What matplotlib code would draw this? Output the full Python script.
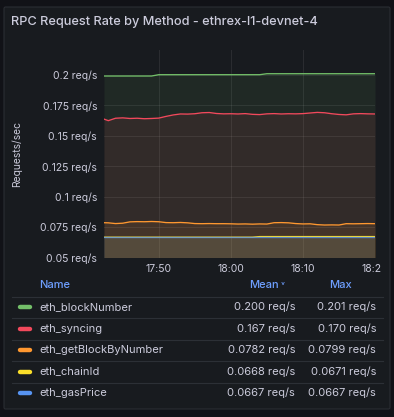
import matplotlib
matplotlib.use("Agg")
import matplotlib.pyplot as plt
import matplotlib.patches as mpatches
from matplotlib.transforms import Bbox

plt.rcParams["font.family"] = ["Inter", "DejaVu Sans"]

# time in minutes after 17:00
minutes = [42.4] + list(range(43, 81))

block_number = [0.1992] * 8 + [0.2003] * 15 + [0.2011] * 16
syncing = [
    0.1638, 0.1625, 0.1645, 0.1648, 0.1643, 0.1645, 0.1641, 0.1643, 0.1646, 0.1660,
    0.1672, 0.1680, 0.1679, 0.1682, 0.1690, 0.1692, 0.1684, 0.1681, 0.1682, 0.1680,
    0.1683, 0.1677, 0.1675, 0.1681, 0.1683, 0.1680, 0.1682, 0.1681, 0.1683, 0.1688,
    0.1693, 0.1690, 0.1682, 0.1676, 0.1673, 0.1681, 0.1683, 0.1681, 0.1680,
]
get_block = [
    0.0786, 0.0785, 0.0779, 0.0782, 0.0793, 0.0795, 0.0794, 0.0796, 0.0794, 0.0787,
    0.0786, 0.0788, 0.0785, 0.0779, 0.0778, 0.0779, 0.0778, 0.0778, 0.0777, 0.0775,
    0.0776, 0.0774, 0.0776, 0.0775, 0.0786, 0.0787, 0.0785, 0.0779, 0.0776, 0.0777,
    0.0770, 0.0767, 0.0768, 0.0767, 0.0778, 0.0777, 0.0778, 0.0779, 0.0778,
]
chain_id = [0.0667] * 22 + [0.0672] * 17
gas_price = [0.0666] * 39

names = ["eth_blockNumber", "eth_syncing", "eth_getBlockByNumber", "eth_chainId", "eth_gasPrice"]
means = ["0.200 req/s", "0.167 req/s", "0.0782 req/s", "0.0668 req/s", "0.0667 req/s"]
maxes = ["0.201 req/s", "0.170 req/s", "0.0799 req/s", "0.0671 req/s", "0.0667 req/s"]
colors = ["#73BF69", "#F2495C", "#FF9830", "#FADE2A", "#5794F2"]
series = [block_number, syncing, get_block, chain_id, gas_price]

y_ticks = [0.05, 0.075, 0.1, 0.125, 0.15, 0.175, 0.2]
y_labels = ["0.05 req/s", "0.075 req/s", "0.1 req/s", "0.125 req/s", "0.15 req/s", "0.175 req/s", "0.2 req/s"]
x_ticks = [50, 60, 70, 80]
x_labels = ["17:50", "18:00", "18:10", "18:20"]

W, H = 394, 417
TEXT = "#ccccdc"
fig = plt.figure(figsize=(W / 100, H / 100), dpi=100, facecolor="#111217")


def fx(px):
    return px / W


def fy(py):
    return 1 - py / H


panel = mpatches.FancyBboxPatch(
    (fx(4), fy(409)), fx(386), 402 / H, boxstyle="round,pad=0,rounding_size=0.004",
    transform=fig.transFigure, facecolor="#181b1f", edgecolor="#2a2d33", linewidth=0.8,
    zorder=-5,
)
fig.patches.append(panel)

fig.text(fx(11), fy(22), "RPC Request Rate by Method - ethrex-l1-devnet-4",
         fontsize=9.2, color=TEXT, va="center", ha="left", fontweight="medium")

ax = fig.add_axes([fx(104), fy(257.5), fx(375 - 104), (257.5 - 50) / H], zorder=2)
ax.set_facecolor("none")
ax.set_xlim(42.4, 80)
ax.set_ylim(0.05, 0.2206)

for vals, c in zip(series, colors):
    ax.fill_between(minutes, vals, 0.05, color=c, alpha=0.09, linewidth=0, zorder=2)
for vals, c in zip(series, colors):
    ax.plot(minutes, vals, color=c, linewidth=0.95, zorder=3,
            alpha=0.75 if c == "#5794F2" else 1.0)

ax.set_yticks(y_ticks)
ax.set_yticklabels(y_labels)
ax.set_xticks(x_ticks)
ax.set_xticklabels(x_labels)
ax.tick_params(length=0, colors=TEXT, labelsize=7.5, pad=5)
ax.grid(True, color="#ffffff", alpha=0.08, linewidth=0.8, zorder=1)
for s in ax.spines.values():
    s.set_visible(False)

clip = Bbox.from_extents(0, 0, 381, H)
for lbl in ax.get_xticklabels():
    lbl.set_clip_on(True)
    lbl.set_clip_box(clip)

fig.text(fx(17), fy(154), "Requests/sec", rotation=90, fontsize=7.4, color=TEXT,
         ha="center", va="center")

# legend table
HEAD = "#6E9FFF"
fig.text(fx(39), fy(285), "Name", fontsize=8, color=HEAD, va="center", fontweight="medium")
fig.text(fx(279), fy(285), "Mean", fontsize=8, color=HEAD, va="center", ha="right",
         fontweight="medium")
fig.text(fx(280.5), fy(285.5), "\u02c5", fontsize=6.5, color=HEAD, va="center", ha="left")
fig.text(fx(341), fy(285), "Max", fontsize=8, color=HEAD, va="center", ha="center",
         fontweight="medium")

row_y = [307, 328.5, 350, 371.5, 393]
sep_y = [297, 318, 339.5, 361, 382.5]
for yy in sep_y:
    fig.add_artist(plt.Line2D([fx(12), fx(383)], [fy(yy), fy(yy)], transform=fig.transFigure,
                              color="#2c3036", linewidth=0.8))
for yy, n, m, mx, c in zip(row_y, names, means, maxes, colors):
    fig.add_artist(plt.Line2D([fx(20), fx(30)], [fy(yy), fy(yy)], transform=fig.transFigure,
                              color=c, linewidth=3.2, solid_capstyle="round"))
    fig.text(fx(39), fy(yy), n, fontsize=8, color=TEXT, va="center")
    fig.text(fx(295), fy(yy), m, fontsize=8, color=TEXT, va="center", ha="right")
    fig.text(fx(376), fy(yy), mx, fontsize=8, color=TEXT, va="center", ha="right")

fig.savefig("out.png", dpi=100, facecolor=fig.get_facecolor())
